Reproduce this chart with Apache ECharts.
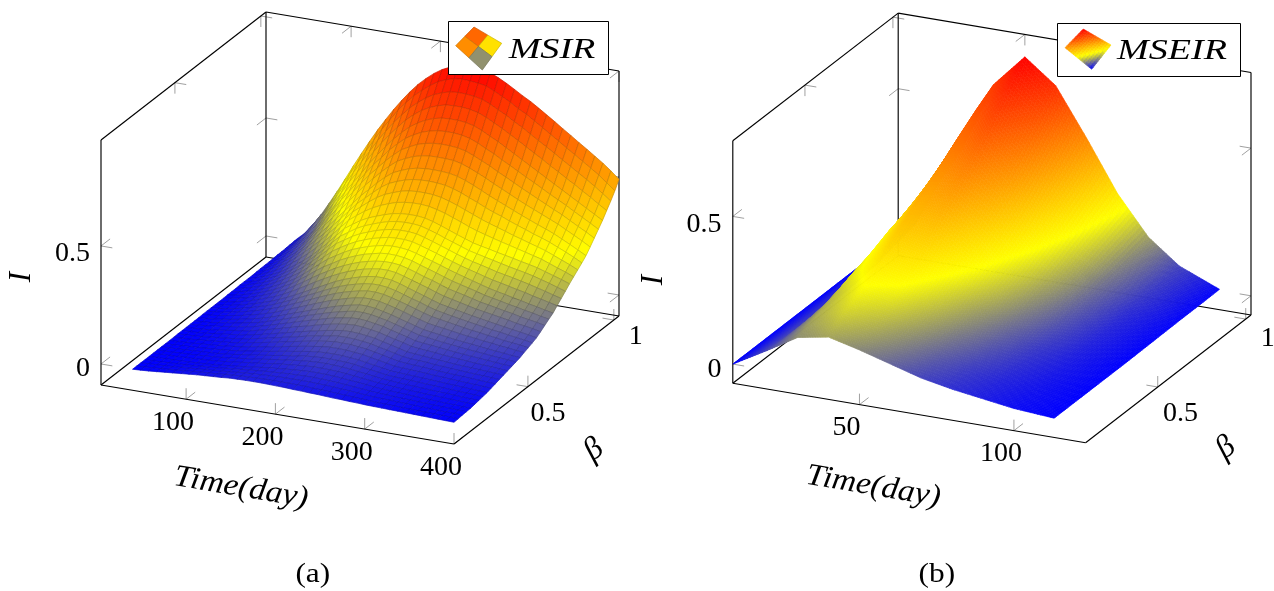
<!DOCTYPE html>
<html><head><meta charset="utf-8">
<style>html,body{margin:0;padding:0;background:#fff}#c{width:1274px;height:591px}</style>
<script src="https://cdn.jsdelivr.net/npm/echarts@6/dist/echarts.min.js"></script>
</head><body><div id="c"></div>
<script>
// ---------- (a) MSIR : I in thousandths; rows = beta, columns = time
const msirTime=[40,49,58,67,76,85,94,103,112,121,130,139,148,157,166,175,184,193,202,211,220,229,238,247,256,265,274,283,292,301,310,319,328,337,346,355,364,373,382,391,400];
const msirBeta=[0.07,0.094,0.118,0.142,0.166,0.19,0.214,0.238,0.262,0.286,0.31,0.334,0.358,0.382,0.406,0.43,0.454,0.478,0.502,0.526,0.55,0.574,0.598,0.622,0.646,0.67,0.694,0.718,0.742,0.766,0.79,0.814,0.838,0.862,0.886,0.91,0.934,0.958,0.982,1.006,1.03];
const msirI=[
[0,2,4,7,10,13,16,19,22,24,26,28,31,32,33,33,33,32,31,30,28,27,25,24,22,20,19,17,16,14,13,12,11,10,9,8,7,6,5,4,3],
[0,2,4,6,9,11,14,17,20,22,24,27,30,32,33,34,35,35,35,35,34,33,31,30,28,26,24,22,20,18,16,15,14,12,11,10,9,8,7,6,4],
[0,2,3,5,7,9,12,14,17,19,22,25,28,31,33,35,37,38,39,39,39,39,37,36,34,31,29,26,23,21,19,18,16,15,13,12,11,9,8,7,6],
[0,1,2,4,6,7,9,12,14,17,20,23,27,30,33,36,38,40,42,43,44,44,43,41,39,36,33,30,26,24,22,20,18,17,15,14,12,11,10,8,7],
[0,1,2,3,4,5,7,9,11,14,18,21,25,29,33,37,40,43,46,48,50,50,49,47,45,41,38,34,30,27,25,23,21,19,17,15,14,12,11,9,8],
[0,1,2,3,5,6,8,10,12,16,20,24,28,32,36,41,45,48,51,54,56,56,55,53,50,46,42,38,34,31,28,26,24,22,20,19,18,15,14,12,11],
[0,1,2,4,5,7,9,11,14,17,22,26,30,35,40,45,49,53,57,60,62,62,61,59,56,51,47,42,37,35,32,30,28,26,24,22,21,19,17,15,14],
[0,1,3,4,6,8,10,12,15,19,24,28,33,38,43,49,53,58,63,66,68,68,67,65,62,56,51,46,40,38,36,34,32,30,28,26,24,22,20,18,17],
[0,1,3,5,7,9,11,14,17,21,26,31,36,41,47,53,58,64,69,73,75,75,74,71,68,62,56,50,44,42,40,38,36,34,32,30,28,26,24,22,20],
[0,1,3,5,8,10,13,16,20,24,30,36,41,47,53,60,66,72,77,82,85,85,84,80,77,70,64,57,50,48,46,44,42,39,37,35,33,31,29,27,25],
[0,2,3,6,9,12,15,18,22,28,34,40,47,53,60,67,74,80,86,91,95,95,94,90,86,79,72,64,57,54,52,50,47,44,42,40,38,36,34,32,30],
[1,2,4,6,10,13,17,20,25,31,38,45,52,60,67,74,82,88,95,100,105,105,104,100,95,87,80,72,64,60,58,56,52,50,47,45,43,41,39,37,35],
[1,2,4,7,11,15,19,23,28,35,42,50,58,66,74,82,90,97,104,110,115,116,114,110,105,96,88,79,70,67,64,61,58,55,52,50,48,46,44,42,40],
[1,3,5,8,12,17,22,26,32,40,48,57,66,75,84,92,101,110,117,123,128,130,127,122,116,107,98,90,80,76,73,70,66,63,60,57,54,52,50,47,45],
[1,3,6,10,14,19,24,30,36,45,54,64,74,84,94,103,112,122,130,136,142,143,140,134,128,118,109,100,90,86,82,78,74,70,67,64,61,58,55,52,50],
[1,4,6,11,16,21,27,34,40,50,60,71,82,92,104,114,124,134,142,150,156,156,153,146,139,129,120,110,100,96,91,86,82,78,74,71,68,64,61,58,55],
[1,4,7,12,17,23,30,37,45,55,66,78,90,101,113,124,135,146,155,163,170,170,166,158,150,140,130,120,110,105,100,95,90,86,82,78,74,70,67,63,60],
[2,4,8,14,20,26,34,42,52,62,75,88,101,114,127,140,152,162,172,180,186,186,182,174,165,155,144,134,124,118,113,108,102,97,93,88,84,79,76,71,68],
[2,5,9,15,22,29,38,47,58,70,84,98,112,126,141,155,168,179,188,196,202,202,198,190,180,170,159,148,138,132,126,120,114,108,104,98,94,88,84,80,75],
[2,6,10,16,24,32,42,52,64,78,92,108,124,139,155,170,184,196,205,213,218,218,214,206,195,184,174,162,152,145,138,132,126,120,114,108,104,98,93,88,82],
[2,6,11,18,26,35,46,57,70,85,101,118,135,152,169,186,200,212,222,230,235,235,231,222,210,199,188,176,165,158,151,144,137,131,125,119,113,107,102,96,90],
[2,7,12,20,29,40,52,64,79,96,115,134,154,172,190,206,220,232,242,249,254,254,250,240,229,218,207,195,184,176,168,160,152,146,140,134,128,120,115,109,102],
[2,8,14,22,32,44,57,72,88,108,129,151,172,191,210,226,240,252,261,268,272,272,268,259,248,236,226,214,202,194,186,177,168,162,155,148,142,134,128,122,115],
[3,8,16,24,35,48,62,79,96,119,143,168,191,210,230,246,260,272,280,288,291,290,286,278,266,255,244,232,221,212,203,194,184,177,170,162,156,148,142,134,128],
[3,9,17,27,38,52,68,86,105,130,157,184,210,230,250,267,280,291,300,307,310,309,305,296,285,274,263,251,240,230,220,210,200,192,185,177,170,162,155,147,140],
[3,10,19,30,42,58,76,95,116,143,172,200,229,250,270,287,300,312,320,328,330,330,326,316,305,294,282,270,259,249,240,230,221,214,206,198,191,182,174,166,158],
[4,11,21,33,46,64,83,104,128,156,186,217,248,269,290,307,320,332,341,348,350,350,346,336,325,313,301,289,278,268,260,251,242,235,228,220,212,203,194,184,175],
[4,12,23,36,50,70,90,114,139,169,200,234,266,288,310,327,340,352,362,368,370,370,366,356,345,332,320,308,296,288,280,272,264,256,249,242,234,224,214,203,192],
[4,13,25,39,55,76,98,123,150,182,215,250,285,308,330,347,360,372,382,388,390,390,386,377,365,352,339,327,315,307,300,292,285,278,270,263,255,244,233,222,210],
[4,14,28,44,62,86,111,138,168,201,235,271,306,332,356,376,392,405,416,422,425,425,422,414,404,391,378,364,352,342,332,323,314,305,296,287,278,265,252,240,226],
[5,16,32,50,70,96,124,154,185,220,255,292,328,355,382,406,425,438,450,457,460,460,458,452,442,430,416,402,388,376,365,354,342,332,321,311,300,286,272,258,242],
[6,18,35,55,78,106,137,170,202,239,275,312,349,378,408,436,458,472,484,492,495,496,494,490,481,469,454,440,424,410,398,384,371,359,346,335,322,307,292,276,258],
[6,20,38,60,85,115,150,185,220,258,295,333,370,402,435,465,490,505,518,526,530,531,530,527,520,508,493,477,460,445,430,415,400,386,372,359,345,328,311,293,275],
[6,22,43,67,94,128,165,204,242,282,322,362,400,434,468,498,525,542,556,565,570,571,570,568,560,547,532,516,498,482,465,448,432,417,402,387,372,354,336,318,298],
[7,25,48,74,102,140,180,222,265,306,348,390,430,465,501,532,560,578,594,604,610,612,611,608,600,586,570,554,535,518,500,482,465,448,431,414,398,379,360,342,322],
[8,28,53,81,111,152,195,241,288,330,374,418,460,496,534,566,595,615,632,643,650,652,652,648,640,626,608,592,572,554,535,516,498,479,460,442,424,404,385,366,346],
[8,30,58,88,120,165,210,260,310,355,400,447,490,528,567,600,630,652,670,682,690,692,692,688,680,665,647,630,610,590,570,550,530,510,490,470,450,430,410,390,370],
[9,33,65,100,136,185,234,286,338,385,432,482,526,566,604,639,668,692,710,723,732,734,734,730,722,708,690,672,652,632,611,590,570,548,528,506,486,464,443,420,398],
[10,36,72,112,152,205,258,312,365,415,465,516,561,604,642,678,706,731,751,764,774,777,776,772,765,750,732,714,693,674,652,630,609,587,565,543,521,499,476,451,425],
[11,39,80,124,168,225,282,338,392,445,498,550,596,642,680,716,744,770,792,806,816,820,818,814,808,792,774,756,734,716,694,671,648,626,602,580,557,534,510,483,455],
[12,42,85,133,187,243,302,362,420,476,530,580,628,672,713,750,781,808,830,846,857,862,861,857,850,835,817,797,776,757,735,712,689,665,642,618,595,571,547,520,490]
];
// ---------- (b) MSEIR : I in thousandths; rows = beta, columns = time
const mseirTime=[9,20,30,40,50,60,70,80,90,100,113];
const mseirBeta=[0.09,0.19,0.3,0.4,0.5,0.61,0.72,0.82,0.93,1.03];
const mseirI=[
[0,65,127,146,120,90,60,40,25,10,0],
[0,62,150,190,160,120,80,50,30,15,0],
[0,60,170,230,210,160,110,70,40,20,0],
[0,58,200,280,260,200,140,90,50,25,0],
[0,58,220,330,320,250,180,115,65,30,0],
[0,62,250,380,390,310,220,145,80,35,1],
[0,72,270,430,460,380,270,175,95,40,2],
[0,88,290,480,530,450,320,205,110,50,3],
[0,105,320,530,610,530,380,240,125,55,3],
[0,170,340,570,680,600,440,270,140,60,4]
];
// ---------- axis ticks and text
const msirTimeTicks=[100,200,300,400];
const mseirTimeTicks=[50,100];
const betaTicks=[0.5,1];
const iTicks=[0,0.5];
const timeLabel='Time(day)', iLabel='I', betaLabel='β';
const msirName='MSIR', mseirName='MSEIR', captions=['(a)','(b)'];
const msirIconLevels=[0.733,0.413,0.633,0.19];
const mseirIconLevels=[[1,0.75,0.42],[0.85,0.5,0.2],[0.62,0.3,0]];

// ---------- layout / projection
const PA={o:[101,385],T:[353,59],B:[165,-128],H:245,tr:[4.7,400],br:[0.07,1.03],zr:[-0.089,0.949],zTop:0.862,
  tTicks:msirTimeTicks,
  zLab:90,zLabDy:[5,7.5],tLab:[-13,23.3],bLab:[[20,27],[22,17]],
  timeAt:[241,488],iAt:[22,277],betaAt:[594,450]};
const PB={o:[732.8,383.3],T:[352.8,59.4],B:[165.4,-127.7],H:242.5,tr:[9,123.2],br:[0.09,1.03],zr:[-0.065,0.756],zTop:0.68,
  tTicks:mseirTimeTicks,
  zLab:721.5,zLabDy:[5.5,8.5],tLab:[-13,22.7],bLab:[[22.8,26.7],[22,20]],
  timeAt:[873.4,486.7],iAt:[654,280],betaAt:[1226,448]};

function proj(P,t,b,z){
  const ft=(t-P.tr[0])/(P.tr[1]-P.tr[0]), fb=(b-P.br[0])/(P.br[1]-P.br[0]), fz=(z-P.zr[0])/(P.zr[1]-P.zr[0]);
  return [P.o[0]+ft*P.T[0]+fb*P.B[0], P.o[1]+ft*P.T[1]+fb*P.B[1]-fz*P.H];
}
const STOPS=[[0,0,255],[255,255,0],[255,128,0],[255,0,0]];
function mapRGB(f){
  f=Math.max(0,Math.min(1,f))*3; const i=Math.min(2,Math.floor(f)), k=f-i, a=STOPS[i], b=STOPS[i+1];
  return [a[0]+(b[0]-a[0])*k,a[1]+(b[1]-a[1])*k,a[2]+(b[2]-a[2])*k];
}
function css(c,m){m=m||1;return 'rgb('+Math.round(c[0]*m)+','+Math.round(c[1]*m)+','+Math.round(c[2]*m)+')';}

function frameSeries(P,z){
  return {type:'custom',coordinateSystem:'cartesian2d',silent:true,animation:false,clip:false,z:z,data:[[0,0]],
    renderItem:function(params,api){
      const [t0,t1]=P.tr,[b0,b1]=P.br,[z0,z1]=P.zr, ch=[];
      const seg=(a,b,col,w)=>{const p=api.coord(a),q=api.coord(b);
        ch.push({type:'line',shape:{x1:p[0],y1:p[1],x2:q[0],y2:q[1]},style:{stroke:col,lineWidth:w}});};
      const E=[[t0,b0,z0,t1,b0,z0],[t1,b0,z0,t1,b1,z0],[t0,b0,z0,t0,b1,z0],[t0,b1,z0,t1,b1,z0],
        [t0,b0,z0,t0,b0,z1],[t0,b0,z1,t0,b1,z1],[t0,b1,z0,t0,b1,z1],[t0,b1,z1,t1,b1,z1],[t1,b1,z0,t1,b1,z1]];
      const unit=(v,l)=>{const n=Math.hypot(v[0],v[1]);return [v[0]/n*l,v[1]/n*l];};
      const dT=unit(P.T,11.5),dB=unit(P.B,11.5),dZ=[0,-11];
      const add=(p,d,s)=>[p[0]+d[0]*s,p[1]+d[1]*s];
      const tick=(p,d1,s1,d2,s2)=>{seg(p,add(p,d1,s1),'#a0a0a0',1);seg(p,add(p,d2,s2),'#a0a0a0',1);};
      iTicks.forEach(v=>{
        tick(proj(P,t0,b0,v),dT,1,dB,1);
        tick(proj(P,t0,b1,v),dT,1,dB,-1);
        tick(proj(P,t1,b1,v),dT,-1,dB,-1);
      });
      P.tTicks.forEach(v=>{
        tick(proj(P,v,b0,z0),dB,1,dZ,1);
        tick(proj(P,v,b1,z1),dB,-1,dZ,-1);
      });
      betaTicks.forEach(v=>{
        tick(proj(P,t1,v,z0),dT,-1,dZ,1);
        tick(proj(P,t0,v,z1),dT,1,dZ,-1);
      });
      E.forEach(e=>seg(proj(P,e[0],e[1],e[2]),proj(P,e[3],e[4],e[5]),'#000',1.15));
      return {type:'group',children:ch};
    }};
}
function cellOrder(rows,cols){
  const d=[];
  for(let r=rows-2;r>=0;r--)for(let c=0;c<cols-1;c++)d.push([r,c]);
  return d;
}
function facetedSurface(P,ts,bs,I,z){
  return {type:'custom',coordinateSystem:'cartesian2d',silent:true,animation:false,clip:false,progressive:0,z:z,
    data:cellOrder(bs.length,ts.length),
    renderItem:function(params,api){
      const r=api.value(0),c=api.value(1);
      const q=[[r,c],[r,c+1],[r+1,c+1],[r+1,c]];
      const pts=q.map(a=>api.coord(proj(P,ts[a[1]],bs[a[0]],I[a[0]][a[1]]/1000)));
      const m=q.reduce((s,a)=>s+I[a[0]][a[1]]/1000,0)/4;
      const col=mapRGB(m/P.zTop);
      return {type:'polygon',shape:{points:pts},style:{fill:css(col),stroke:css(col,0.8),lineWidth:0.7}};
    }};
}
function shadedSurface(P,ts,bs,I,z,n){
  return {type:'custom',coordinateSystem:'cartesian2d',silent:true,animation:false,clip:false,progressive:0,z:z,
    data:cellOrder(bs.length,ts.length),
    renderItem:function(params,api){
      const r=api.value(0),c=api.value(1),ch=[];
      const z00=I[r][c]/1000,z01=I[r][c+1]/1000,z10=I[r+1][c]/1000,z11=I[r+1][c+1]/1000;
      const at=(i,j)=>{const s=j/n,u=i/n;
        const zz=(z00*(1-s)+z01*s)*(1-u)+(z10*(1-s)+z11*s)*u;
        const t=ts[c]+(ts[c+1]-ts[c])*s,b=bs[r]+(bs[r+1]-bs[r])*u;
        return {p:api.coord(proj(P,t,b,zz)),z:zz};};
      for(let i=n-1;i>=0;i--)for(let j=0;j<n;j++){
        const a=at(i,j),b=at(i,j+1),d=at(i+1,j+1),e=at(i+1,j);
        const col=css(mapRGB((a.z+b.z+d.z+e.z)/4/P.zTop));
        ch.push({type:'polygon',shape:{points:[a.p,b.p,d.p,e.p]},style:{fill:col,stroke:col,lineWidth:0.7}});
      }
      return {type:'group',children:ch};
    }};
}
// ---------- text and legends (graphic layer)
const FONT='"Liberation Serif","Times New Roman",serif';
function label(text,x,y,o){o=o||{};
  return {type:'text',x:x,y:y,z:100,silent:true,rotation:o.rot||0,scaleX:o.sx||1,
    style:{text:text,font:(o.it?'italic ':'')+(o.size||28)+'px '+FONT,fill:'#000',align:o.align||'center',verticalAlign:'middle'}};
}
const G=[];
[PA,PB].forEach(P=>{
  const [t0,t1]=P.tr,[b0,b1]=P.br,[z0]=P.zr;
  iTicks.forEach((v,i)=>{const p=proj(P,t0,b0,v);G.push(label(String(v),P.zLab,p[1]+P.zLabDy[i],{align:'right'}));});
  P.tTicks.forEach(v=>{const p=proj(P,v,b0,z0);G.push(label(String(v),p[0]+P.tLab[0],p[1]+P.tLab[1]));});
  betaTicks.forEach((v,i)=>{const p=proj(P,t1,v,z0);G.push(label(String(v),p[0]+P.bLab[i][0],p[1]+P.bLab[i][1]));});
  G.push(label(timeLabel,P.timeAt[0],P.timeAt[1],{it:1,size:31,rot:-Math.atan2(P.T[1],P.T[0]),sx:1.08}));
  G.push(label(iLabel,P.iAt[0],P.iAt[1],{it:1,size:31,rot:Math.PI/2}));
  G.push(label(betaLabel,P.betaAt[0],P.betaAt[1],{it:1,size:32,rot:Math.atan2(-P.B[1],P.B[0])}));
});
G.push(label(captions[0],312.8,575,{size:28,sx:1.12}));
G.push(label(captions[1],936.8,575,{size:28,sx:1.12}));
function box(x0,y0,x1,y1){return {type:'rect',z:90,silent:true,shape:{x:x0+.5,y:y0+.5,width:x1-x0,height:y1-y0},style:{fill:'#fff',stroke:'#000',lineWidth:1}};}
function iconPt(c,s,r){ // c: top,right,left,bottom
  return [c[0][0]*(1-s)*(1-r)+c[1][0]*s*(1-r)+c[2][0]*(1-s)*r+c[3][0]*s*r,
          c[0][1]*(1-s)*(1-r)+c[1][1]*s*(1-r)+c[2][1]*(1-s)*r+c[3][1]*s*r];
}
G.push(box(448,21,608,74));
const ca=[[474,27],[501.7,43.3],[455.7,45.7],[482.3,70]];
[[0,0],[.5,0],[0,.5],[.5,.5]].forEach((a,i)=>{
  const col=mapRGB(msirIconLevels[i]);
  G.push({type:'polygon',z:95,silent:true,shape:{points:[iconPt(ca,a[0],a[1]),iconPt(ca,a[0]+.5,a[1]),iconPt(ca,a[0]+.5,a[1]+.5),iconPt(ca,a[0],a[1]+.5)]},
    style:{fill:css(col),stroke:css(col,0.8),lineWidth:0.7}});
});
G.push(label(msirName,552,50,{it:1,size:30,sx:1.27}));
G.push(box(1057,23,1240,76));
const cb=[[1083.3,29],[1111,45],[1065,47.7],[1091.7,69.3]];
const N=6;
const lev=(s,r)=>{
  const L=mseirIconLevels,si=s<.5?0:1,ri=r<.5?0:1,a=(s-si*.5)*2,b=(r-ri*.5)*2;
  return (L[ri][si]*(1-a)+L[ri][si+1]*a)*(1-b)+(L[ri+1][si]*(1-a)+L[ri+1][si+1]*a)*b;
};
for(let i=0;i<2*N;i++)for(let j=0;j<2*N;j++){
  const d=1/(2*N),s=j*d,r=i*d,col=css(mapRGB(lev(s+d/2,r+d/2)));
  G.push({type:'polygon',z:95,silent:true,shape:{points:[iconPt(cb,s,r),iconPt(cb,s+d,r),iconPt(cb,s+d,r+d),iconPt(cb,s,r+d)]},
    style:{fill:col,stroke:col,lineWidth:0.6}});
}
G.push(label(mseirName,1172,51,{it:1,size:30,sx:1.27}));

const chart=echarts.init(document.getElementById('c'),null,{renderer:'canvas'});
chart.setOption({
  backgroundColor:'#fff',animation:false,
  grid:{left:0,top:0,width:1274,height:591},
  xAxis:{type:'value',min:0,max:1274,show:false},
  yAxis:{type:'value',min:0,max:591,inverse:true,show:false},
  tooltip:{show:false},
  graphic:{elements:G},
  series:[
    frameSeries(PA,1),
    facetedSurface(PA,msirTime,msirBeta,msirI,2),
    frameSeries(PB,1),
    shadedSurface(PB,mseirTime,mseirBeta,mseirI,2,12)
  ]
});
</script></body></html>
